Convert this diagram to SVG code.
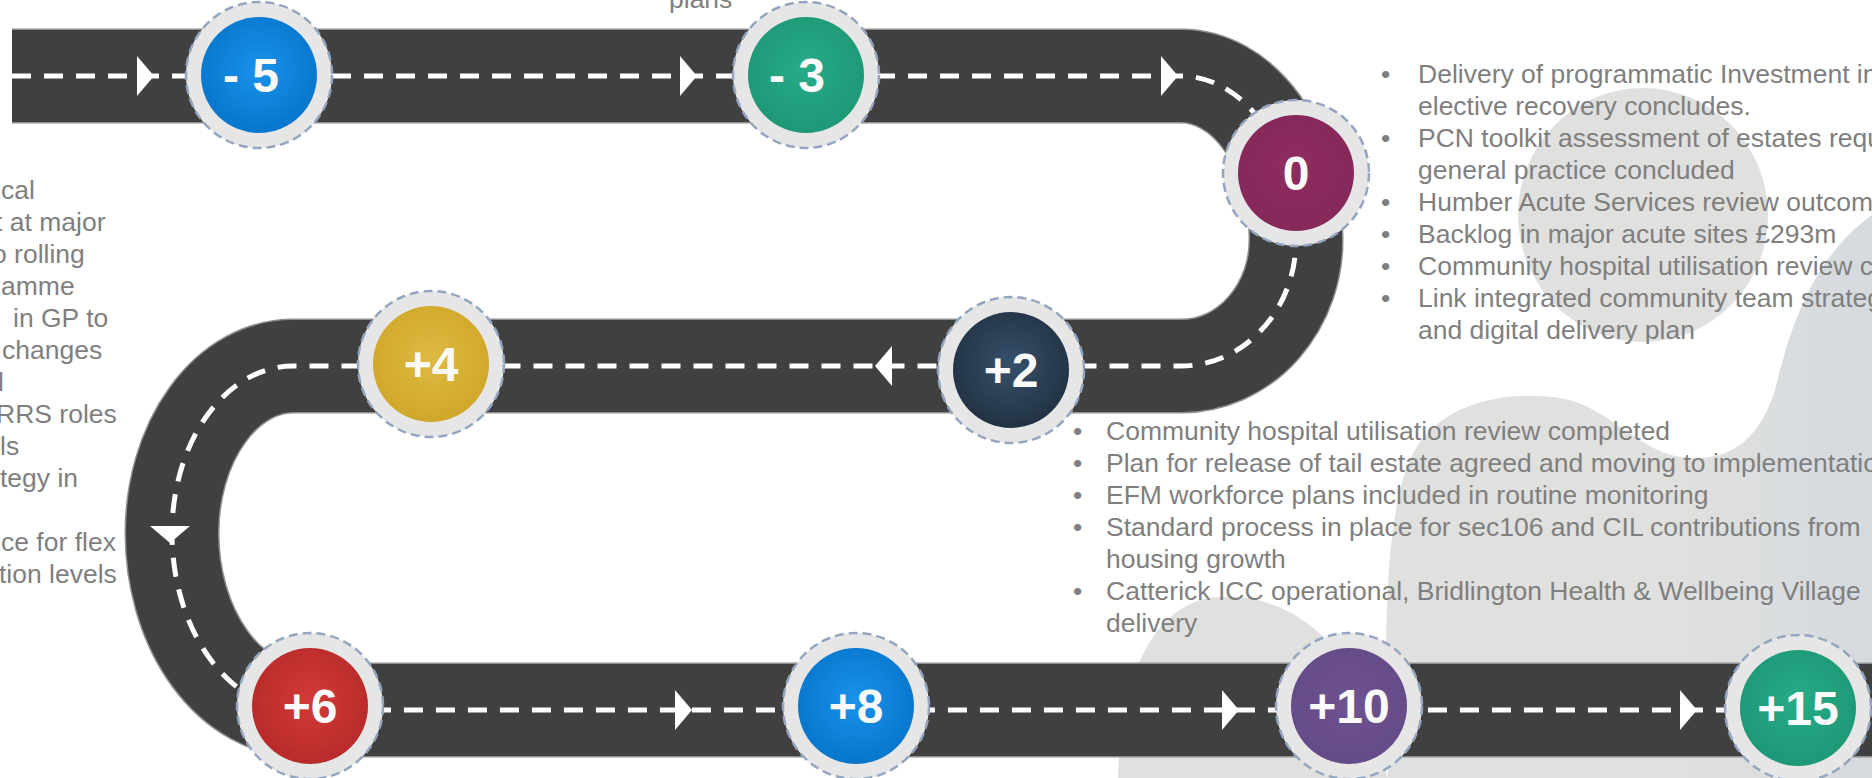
<svg xmlns="http://www.w3.org/2000/svg" width="1872" height="778" viewBox="0 0 1872 778">
<defs>
<style>
.txt{font-family:"Liberation Sans",Arial,sans-serif;font-size:26.5px;fill:#7f7f7f}
.num{font-family:"Liberation Sans",Arial,sans-serif;font-size:48px;font-weight:bold;fill:#fafafa;text-anchor:middle}
.ring{fill:#e6e6e6;stroke:#93a5bf;stroke-width:2.5;stroke-dasharray:9 5}
.arrow{fill:#ffffff}
.blob{fill:#e0e0de}
</style>
<radialGradient id="gBlue" cx="50%" cy="45%" r="55%"><stop offset="0" stop-color="#1a92ea"/><stop offset="1" stop-color="#0776cc"/></radialGradient>
<radialGradient id="gTeal" cx="50%" cy="45%" r="55%"><stop offset="0" stop-color="#27ab87"/><stop offset="1" stop-color="#1e9877"/></radialGradient>
<radialGradient id="gPlum" cx="50%" cy="45%" r="55%"><stop offset="0" stop-color="#8e2c5e"/><stop offset="1" stop-color="#86285a"/></radialGradient>
<radialGradient id="gNavy" cx="50%" cy="45%" r="55%"><stop offset="0" stop-color="#36506a"/><stop offset="1" stop-color="#223244"/></radialGradient>
<radialGradient id="gGold" cx="50%" cy="45%" r="55%"><stop offset="0" stop-color="#dfba42"/><stop offset="1" stop-color="#cfa72a"/></radialGradient>
<radialGradient id="gRed" cx="50%" cy="45%" r="55%"><stop offset="0" stop-color="#d23a37"/><stop offset="1" stop-color="#b72b2a"/></radialGradient>
<radialGradient id="gPurple" cx="50%" cy="45%" r="55%"><stop offset="0" stop-color="#6d528f"/><stop offset="1" stop-color="#654b88"/></radialGradient>
<linearGradient id="gBlob" x1="1380" y1="0" x2="1872" y2="0" gradientUnits="userSpaceOnUse"><stop offset="0.6" stop-color="#e0e0de"/><stop offset="1" stop-color="#d5dadf"/></linearGradient>
<path id="arrR" d="M-17,-20 L0,0 L-17,20 Z"/>
</defs>

<g id="background">
<ellipse class="blob" cx="1643" cy="215" rx="125" ry="127"/>
<path fill="url(#gBlob)" d="M1388,778 C1384,640 1384,520 1410,460 C1430,412 1490,388 1560,398 C1610,406 1640,456 1690,458 C1740,460 1762,430 1775,390 C1790,330 1810,260 1872,215 L1872,778 Z"/>
<path class="blob" d="M1118,778 C1120,700 1140,620 1200,600 C1260,585 1330,620 1360,690 L1388,778 Z"/>
</g>

<g id="road">
<path d="M12,76 L1181,76 A115,161 0 0 1 1296,237 A115,126 0 0 1 1181,366 L293,366 A121,167 0 0 0 172,533 A128,177 0 0 0 300,710 L1872,710" fill="none" stroke="#8e8e8e" stroke-width="95"/>
<path d="M12,76 L1181,76 A115,161 0 0 1 1296,237 A115,126 0 0 1 1181,366 L293,366 A121,167 0 0 0 172,533 A128,177 0 0 0 300,710 L1872,710" fill="none" stroke="#404040" stroke-width="92"/>
</g>

<g id="connectors">
<path d="M12,76 L1181,76 A115,161 0 0 1 1296,237 A115,126 0 0 1 1181,366 L293,366 A121,167 0 0 0 172,533 A128,177 0 0 0 300,710 L1872,710" fill="none" stroke="#ffffff" stroke-width="5" stroke-dasharray="19 13"/>
<use href="#arrR" class="arrow" transform="translate(154,76)"/>
<use href="#arrR" class="arrow" transform="translate(697,76)"/>
<use href="#arrR" class="arrow" transform="translate(1178,76)"/>
<use href="#arrR" class="arrow" transform="translate(875,366) rotate(180)"/>
<use href="#arrR" class="arrow" transform="translate(170,543) rotate(90)"/>
<use href="#arrR" class="arrow" transform="translate(692,710)"/>
<use href="#arrR" class="arrow" transform="translate(1239,710)"/>
<use href="#arrR" class="arrow" transform="translate(1697,710)"/>
</g>

<g id="node-minus5"><circle class="ring" cx="259" cy="75" r="73"/><circle cx="259" cy="75" r="58" fill="url(#gBlue)"/><text class="num" x="251" y="92">- 5</text></g>
<g id="node-minus3"><circle class="ring" cx="806" cy="75" r="73"/><circle cx="806" cy="75" r="58" fill="url(#gTeal)"/><text class="num" x="797" y="92">- 3</text></g>
<g id="node-0"><circle class="ring" cx="1296" cy="173" r="73"/><circle cx="1296" cy="173" r="58" fill="url(#gPlum)"/><text class="num" x="1296" y="190">0</text></g>
<g id="node-plus2"><circle class="ring" cx="1011" cy="370" r="73"/><circle cx="1011" cy="370" r="58" fill="url(#gNavy)"/><text class="num" x="1011" y="387">+2</text></g>
<g id="node-plus4"><circle class="ring" cx="431" cy="364" r="73"/><circle cx="431" cy="364" r="58" fill="url(#gGold)"/><text class="num" x="431" y="381">+4</text></g>
<g id="node-plus6"><circle class="ring" cx="310" cy="706" r="73"/><circle cx="310" cy="706" r="58" fill="url(#gRed)"/><text class="num" x="310" y="723">+6</text></g>
<g id="node-plus8"><circle class="ring" cx="856" cy="706" r="73"/><circle cx="856" cy="706" r="58" fill="url(#gBlue)"/><text class="num" x="856" y="723">+8</text></g>
<g id="node-plus10"><circle class="ring" cx="1349" cy="706" r="73"/><circle cx="1349" cy="706" r="58" fill="url(#gPurple)"/><text class="num" x="1349" y="723">+10</text></g>
<g id="node-plus15"><circle class="ring" cx="1798" cy="708" r="73"/><circle cx="1798" cy="708" r="58" fill="url(#gTeal)"/><text class="num" x="1798" y="725">+15</text></g>

<g id="text-top"><text class="txt" x="669" y="8">plans</text></g>

<g id="text-left" class="txt">
<text x="1" y="199">cal</text>
<text x="-5" y="231">t at major</text>
<text x="-8" y="263">o rolling</text>
<text x="1" y="295">amme</text>
<text x="13" y="327">in GP to</text>
<text x="2" y="359">changes</text>
<text x="-2" y="391">l</text>
<text x="-4" y="423">RRS roles</text>
<text x="0" y="455">ls</text>
<text x="0" y="487">tegy in</text>
<text x="1" y="551">ce for flex</text>
<text x="-1" y="583">tion levels</text>
</g>

<g id="text-year0" class="txt">
<text x="1381" y="83">•</text><text x="1418" y="83">Delivery of programmatic Investment in</text>
<text x="1418" y="115">elective recovery concludes.</text>
<text x="1381" y="147">•</text><text x="1418" y="147">PCN toolkit assessment of estates requ</text>
<text x="1418" y="179">general practice concluded</text>
<text x="1381" y="211">•</text><text x="1418" y="211">Humber Acute Services review outcom</text>
<text x="1381" y="243">•</text><text x="1418" y="243">Backlog in major acute sites £293m</text>
<text x="1381" y="275">•</text><text x="1418" y="275">Community hospital utilisation review c</text>
<text x="1381" y="307">•</text><text x="1418" y="307">Link integrated community team strateg</text>
<text x="1418" y="339">and digital delivery plan</text>
</g>

<g id="text-year2" class="txt">
<text x="1073" y="440">•</text><text x="1106" y="440">Community hospital utilisation review completed</text>
<text x="1073" y="472">•</text><text x="1106" y="472">Plan for release of tail estate agreed and moving to implementatio</text>
<text x="1073" y="504">•</text><text x="1106" y="504">EFM workforce plans included in routine monitoring</text>
<text x="1073" y="536">•</text><text x="1106" y="536">Standard process in place for sec106 and CIL contributions from</text>
<text x="1106" y="568">housing growth</text>
<text x="1073" y="600">•</text><text x="1106" y="600">Catterick ICC operational, Bridlington Health &amp; Wellbeing Village</text>
<text x="1106" y="632">delivery</text>
</g>
</svg>
